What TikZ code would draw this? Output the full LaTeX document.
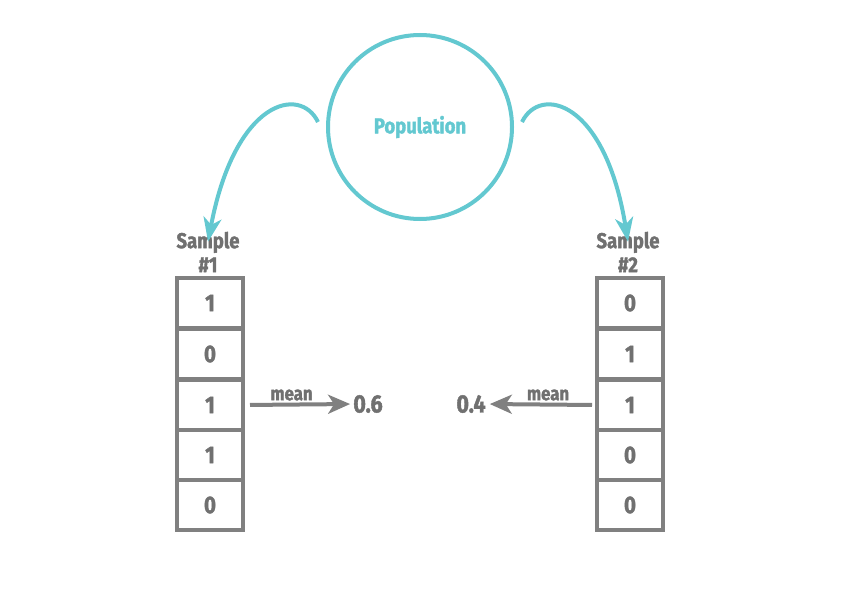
\documentclass[tikz,border=0pt]{standalone}
\usepackage{fontspec}
\setmainfont{Fira Sans Bold}[FakeStretch=0.86, FakeBold=1.6]
\usetikzlibrary{arrows.meta}

\definecolor{popteal}{RGB}{99,200,208}
\definecolor{boxgray}{RGB}{128,128,128}
\definecolor{txtgray}{RGB}{112,112,112}

\tikzset{
  pop/.style={circle, draw=popteal, line width=4pt, minimum size=184pt,
    text=popteal, font=\fontsize{21.5}{24}\selectfont},
  samplelab/.style={align=center, inner sep=0pt, text=txtgray,
    font=\fontsize{21.5}{24}\selectfont},
  cell/.style={rectangle, draw=boxgray, line width=4pt, minimum width=66pt,
    minimum height=50pt, text=txtgray, font=\fontsize{24}{24}\selectfont},
  val/.style={inner sep=0pt, text=txtgray, font=\fontsize{25}{24}\selectfont},
  meanlab/.style={inner sep=2pt, text=txtgray, font=\fontsize{19.5}{18}\selectfont},
  flow/.style={draw=popteal, line width=4pt,
    -{Stealth[length=24pt,width=18pt,inset=7pt]}},
  meanarr/.style={draw=boxgray, line width=4pt,
    -{Stealth[length=22pt,width=19pt,inset=6pt]}}
}

\begin{document}
\begin{tikzpicture}[x=1pt, y=-1pt]
	\useasboundingbox (0, 0) rectangle (842, 596);

	\node[pop] (pop) at (420, 127) {Population};

	\node[samplelab] (s1) at (208, 252) {Sample\\\#1};
	\node[samplelab] (s2) at (628, 252) {Sample\\\#2};

	% sample 1
	\node[cell] (a1) at (210, 303) {1};
	\node[cell] (a2) at (210, 354) {0};
	\node[cell] (a3) at (210, 405) {1};
	\node[cell] (a4) at (210, 455) {1};
	\node[cell] (a5) at (210, 505) {0};

	% sample 2
	\node[cell] (b1) at (630, 303) {0};
	\node[cell] (b2) at (630, 354) {1};
	\node[cell] (b3) at (630, 405) {1};
	\node[cell] (b4) at (630, 455) {0};
	\node[cell] (b5) at (630, 505) {0};

	\node[val] (v1) at (368, 404) {0.6};
	\node[val] (v2) at (471, 404) {0.4};

	\draw[flow] ([shift={(-8, -5)}]pop.west) .. controls (300, 85) and (235, 100) .. ([yshift=-10]s1.north);
	\draw[flow] ([shift={(8, -5)}]pop.east) .. controls (540, 85) and (605, 100) .. ([yshift=-10]s2.north);

	\draw[meanarr, shorten <=5pt, shorten >=3pt] (a3.east) -- node[meanlab, above, pos=0.43] {mean} (v1.west);
	\draw[meanarr, shorten <=3pt, shorten >=4pt] (b3.west) -- node[meanlab, above, pos=0.43] {mean} (v2.east);
\end{tikzpicture}
\end{document}
